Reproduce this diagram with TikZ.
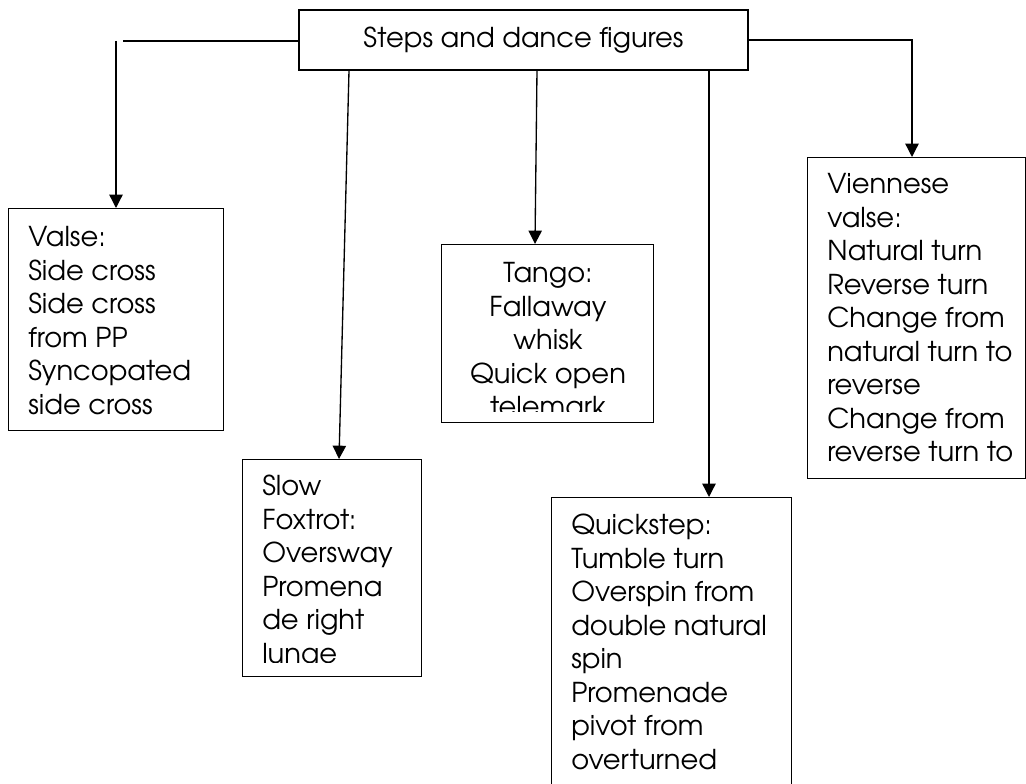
\documentclass[tikz,border=0pt]{standalone}
\usepackage{fontspec}
\setmainfont{TeX Gyre Adventor}
\usetikzlibrary{arrows.meta}
\begin{document}
\begin{tikzpicture}[x=0.75pt,y=-0.75pt,
  box/.style={draw, line width=1.1pt, inner sep=0pt, anchor=north west},
  txt/.style={inner sep=0pt, font=\fontsize{20.5pt}{25.125pt}\selectfont},
  conn/.style={line width=1pt},
  arr/.style={conn, -{Triangle[length=10pt,width=10pt]}}]
\useasboundingbox (0,0) rectangle (1026,784);
\clip (0,0) rectangle (1026,784);
% top box
\node[txt, draw, line width=1.1pt, minimum width=336.75pt, minimum height=45pt] (top) at (523.5,40) {Steps and dance figures};
% boxes
\node[box, minimum width=161.25pt, minimum height=166.5pt] (valse) at (8,208) {};
\node[box, minimum width=134.25pt, minimum height=162.75pt] (foxtrot) at (242,459) {};
\node[box, minimum width=159pt, minimum height=133.5pt] (tango) at (441,244) {};
\node[box, minimum width=180pt, minimum height=225pt] (quick) at (551,497) {};
\node[box, minimum width=163.5pt, minimum height=240.75pt] (vienna) at (807,157) {};
% texts
\begin{scope}
\clip (valse.north west) rectangle ([yshift=9pt]valse.south east);
\node[txt, anchor=base west] (valsetext) at (28,247) {\begin{tabular}[t]{@{}l@{}}Valse:\\Side cross\\Side cross\\from PP\\Syncopated\\side cross\end{tabular}};
\end{scope}
\begin{scope}
\clip (foxtrot.north west) rectangle ([yshift=11pt]foxtrot.south east);
\node[txt, anchor=base west] (foxtext) at (262,496) {\begin{tabular}[t]{@{}l@{}}Slow\\Foxtrot:\\Oversway\\Promena\\de right\\lunge\end{tabular}};
\end{scope}
\begin{scope}
\clip (tango.north west) rectangle ([yshift=9pt]tango.south east);
\node[txt, anchor=base] (tangotext) at (548,283) {\begin{tabular}[t]{@{}c@{}}Tango:\\Fallaway\\whisk\\Quick open\\telemark\end{tabular}};
\end{scope}
\begin{scope}
\clip (quick.north west) rectangle ([yshift=9pt]quick.south east);
\node[txt, anchor=base west] (quicktext) at (571,535) {\begin{tabular}[t]{@{}l@{}}Quickstep:\\Tumble turn\\Overspin from\\double natural\\spin\\Promenade\\pivot from\\overturned\end{tabular}};
\end{scope}
\begin{scope}
\clip (vienna.north west) rectangle ([yshift=9pt]vienna.south east);
\node[txt, anchor=base west] (viennatext) at (827,194) {\begin{tabular}[t]{@{}l@{}}Viennese\\valse:\\Natural turn\\Reverse turn\\Change from\\natural turn to\\reverse\\Change from\\reverse turn to\end{tabular}};
\end{scope}
% connectors
\coordinate (lh) at (123,41);
\coordinate (lv) at (116,41);
\coordinate (f1) at (349,0);
\coordinate (f2) at (339,0);
\coordinate (t1) at (537,0);
\coordinate (t2) at (535,0);
\coordinate (q) at (709,0);
\coordinate (v) at (912,0);
\draw[conn] (top.west |- lh) -- (lh);
\draw[arr] (lv) -- (valse.north -| lv);
\draw[arr] (top.south -| f1) -- (foxtrot.north -| f2);
\draw[arr] (top.south -| t1) -- (tango.north -| t2);
\draw[arr] (top.south -| q) -- (quick.north -| q);
\draw[arr] (top.east) -| (vienna.north -| v);
\end{tikzpicture}
\end{document}
